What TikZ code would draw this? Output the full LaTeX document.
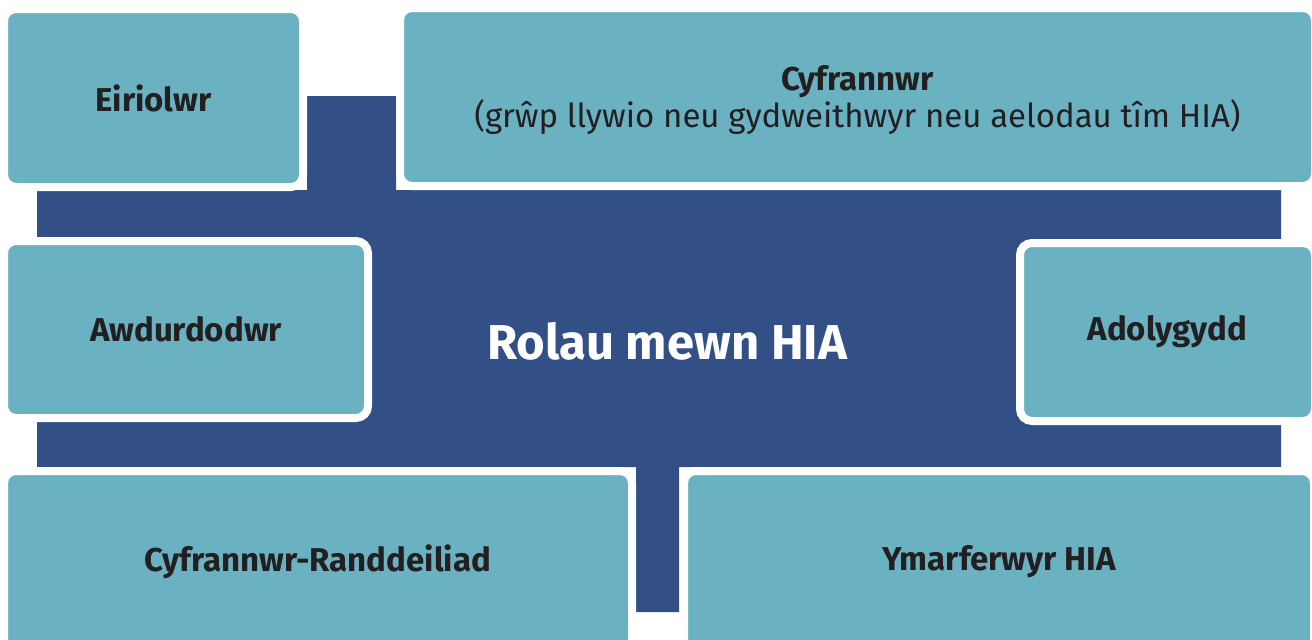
\documentclass[tikz,border=0pt]{standalone}
\usepackage{fontspec}
\setmainfont{Fira Sans}
\definecolor{rolteal}{RGB}{106,178,193}
\definecolor{rolblue}{RGB}{50,80,134}
\definecolor{roltext}{RGB}{35,31,32}
\begin{document}
\begin{tikzpicture}[x=0.5pt,y=-0.5pt,
	rolebox/.style={fill=rolteal, draw=white, line width=4pt, rounded corners=6pt, text=roltext,
		font=\fontsize{16.5}{16}\selectfont\bfseries, align=center, inner sep=0pt}]
	\useasboundingbox[fill=white] (0,0) rectangle (1312,639);
	% blue cross behind the boxes
	\fill[rolblue] (307,96) -- (396,96) -- (396,190) -- (1281,190) -- (1281,467) -- (679,467)
		-- (679,612) -- (636,612) -- (636,467) -- (37,467) -- (37,190) -- (307,190) -- cycle;
	\node[rolebox, minimum width=149.5pt, minimum height=89pt] (eiriolwr) at (153.5,98) {Eiriolwr};
	\node[rolebox, minimum width=457.5pt, minimum height=89pt, text depth=0pt] (cyfrannwr) at (857.5,97)
		{\\[-4pt]Cyfrannwr\\{\mdseries (grŵp llywio neu gydweithwyr neu aelodau tîm HIA)}};
	\node[rolebox, minimum width=182pt, minimum height=88.5pt] (awdurdodwr) at (186,329.5) {Awdurdodwr};
	\node[rolebox, minimum width=147.5pt, minimum height=89pt] (adolygydd) at (1167.5,332) {Adolygydd};
	\node[rolebox, minimum width=314pt, minimum height=91pt] (randdeiliad) at (318,562) {Cyfrannwr-Randdeiliad};
	\node[rolebox, minimum width=315pt, minimum height=91pt] (ymarferwyr) at (999,562) {Ymarferwyr HIA};
	\node[text=white, font=\fontsize{24.5}{26}\selectfont\bfseries] (rolau) at (667,341) {Rolau mewn HIA};
\end{tikzpicture}
\end{document}
